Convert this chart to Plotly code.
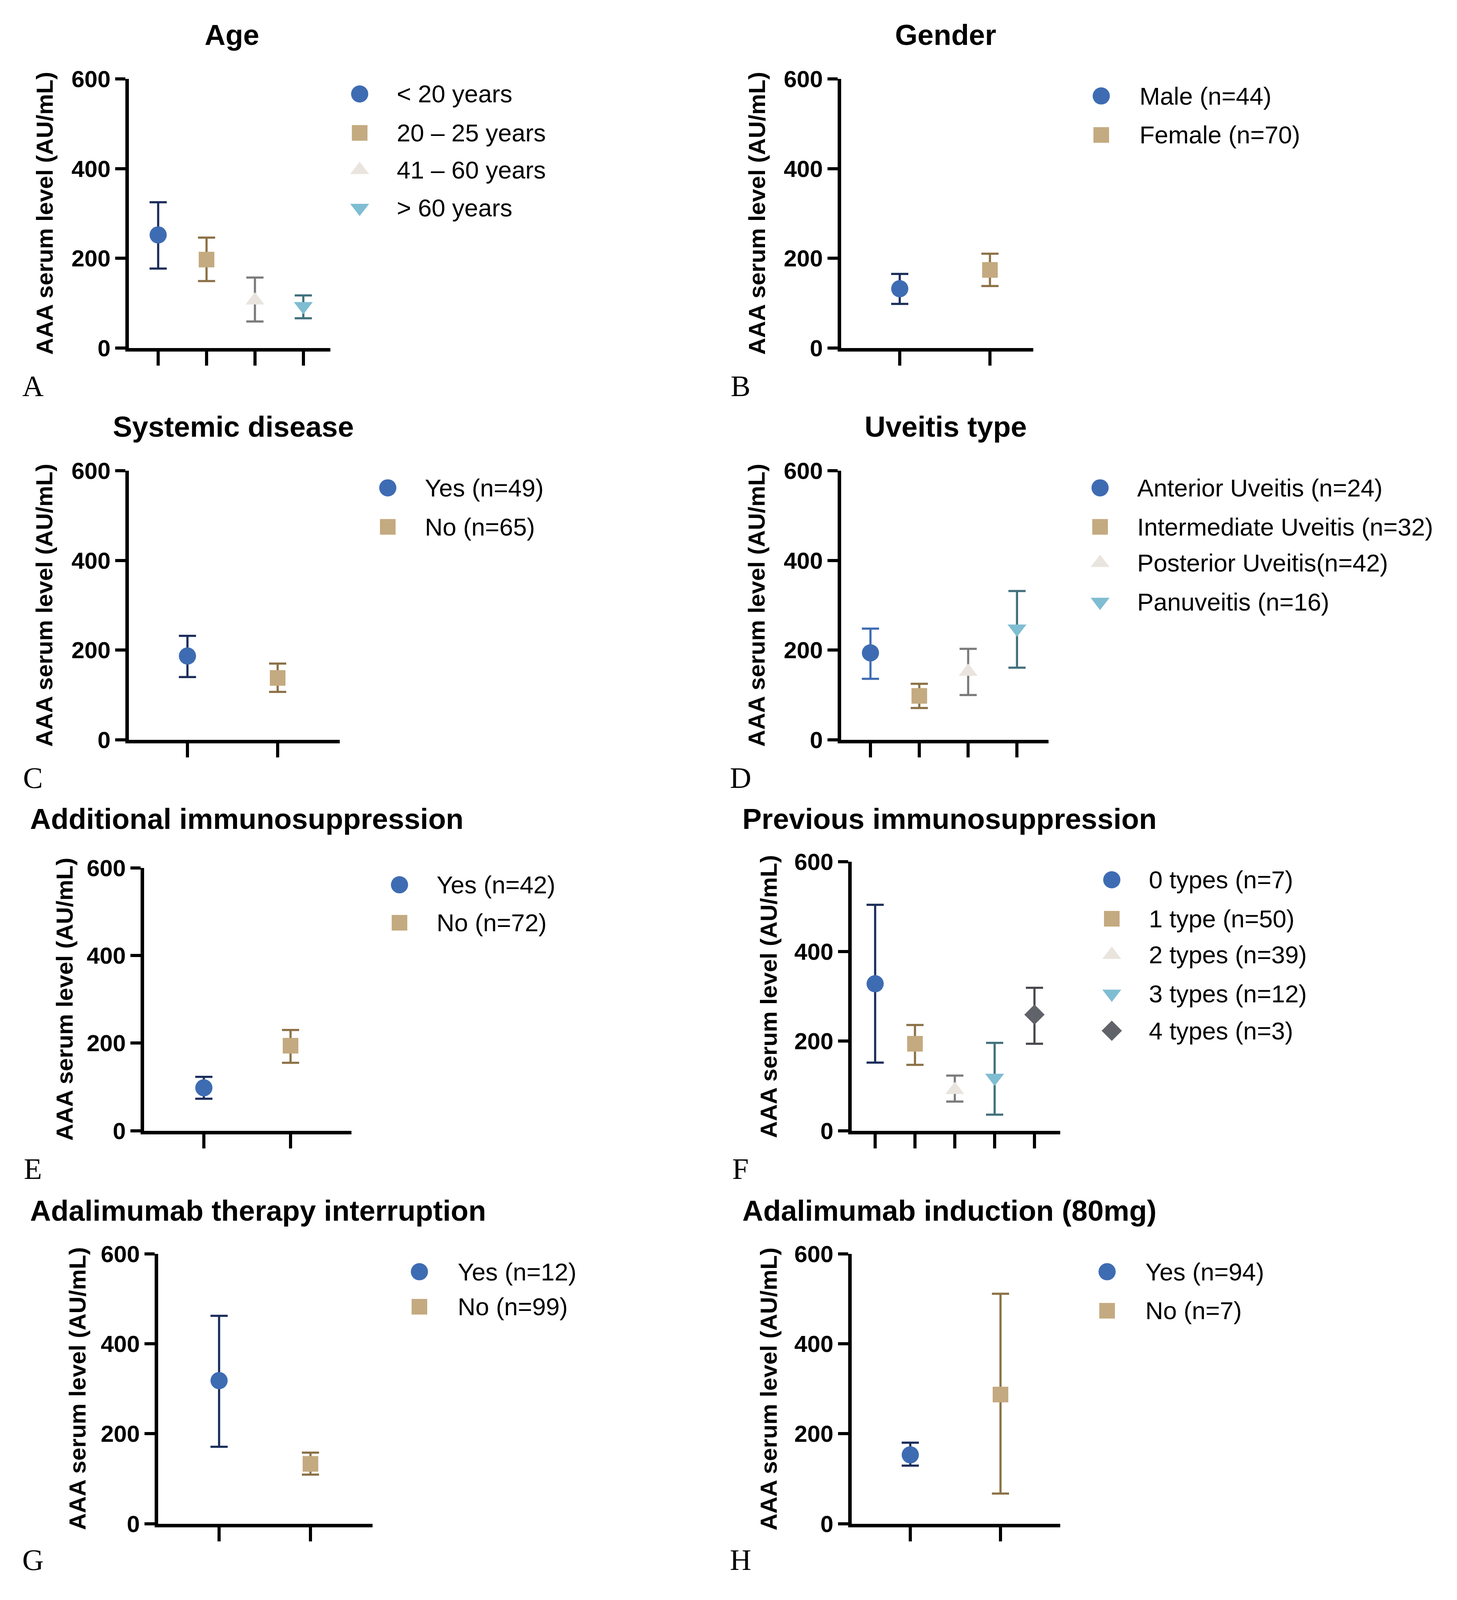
import plotly.graph_objects as go

# reference frame is 3731 x 4722; the page that gets photographed is about
# 3731 x 4096, so the figure is sized to fit it and positions are mapped over
REF_W, REF_H = 3731, 4722
VIEW_H = 4096
PAGE_MARGIN = 8
W, H = REF_W - 2 * PAGE_MARGIN, VIEW_H - 2 * PAGE_MARGIN
S = 3.0  # layout numbers below are given in 1/3 of the reference scale
VS = S * VIEW_H / REF_H  # vertical factor from layout units to page pixels

# ---- data (mean with lower / upper error limits) ----
age_labels = ["< 20 years", "20 – 25 years", "41 – 60 years", "> 60 years"]
age_mean = [252, 197, 106, 93]
age_low = [177, 149, 59, 66]
age_high = [325, 246, 157, 117]

gender_labels = ["Male (n=44)", "Female (n=70)"]
gender_mean = [132, 174]
gender_low = [98, 138]
gender_high = [165, 210]

systemic_labels = ["Yes (n=49)", "No (n=65)"]
systemic_mean = [187, 138]
systemic_low = [140, 107]
systemic_high = [232, 170]

uveitis_labels = ["Anterior Uveitis (n=24)", "Intermediate Uveitis (n=32)",
                  "Posterior Uveitis(n=42)", "Panuveitis (n=16)"]
uveitis_mean = [194, 98, 152, 248]
uveitis_low = [136, 71, 100, 161]
uveitis_high = [248, 125, 203, 332]

addimm_labels = ["Yes (n=42)", "No (n=72)"]
addimm_mean = [98, 194]
addimm_low = [73, 155]
addimm_high = [123, 230]

previmm_labels = ["0 types (n=7)", "1 type (n=50)", "2 types (n=39)",
                  "3 types (n=12)", "4 types (n=3)"]
previmm_mean = [328, 194, 91, 118, 259]
previmm_low = [152, 147, 65, 36, 194]
previmm_high = [504, 236, 123, 196, 319]

interrupt_labels = ["Yes (n=12)", "No (n=99)"]
interrupt_mean = [318, 133]
interrupt_low = [171, 109]
interrupt_high = [462, 158]

induction_labels = ["Yes (n=94)", "No (n=7)"]
induction_mean = [153, 287]
induction_low = [129, 67]
induction_high = [180, 511]

y_ticks = [0, 200, 400, 600]
y_title = "AAA serum level (AU/mL)"

# ---- styles ----
symbols = ["circle", "square", "triangle-up", "triangle-down", "diamond"]
marker_colors = ["#3e6cb3", "#c4aa80", "#e9e5de", "#7fbdd2", "#606369"]
err_colors = ["#1a2d5a", "#8b7145", "#7b7b7b", "#41707c", "#47484c"]
marker_sizes = [44, 40, 42, 42, 40]

panels = [
    dict(title="Age", tx=198, talign="center", ty=22, letter="A", lx=28, ly=373,
         x0=110, x1=282, t0=135, step=41.3, ytop=66, ybot=335, yt_x=38,
         leg_x=307, leg_tx=338, leg_y=[81, 120, 157, 195],
         labels=age_labels, mean=age_mean, low=age_low, high=age_high),
    dict(title="Gender", tx=807, talign="center", ty=22, letter="B", lx=632, ly=373,
         x0=718, x1=882, t0=768, step=77, ytop=66, ybot=335, yt_x=646,
         leg_x=940, leg_tx=972, leg_y=[83, 122],
         labels=gender_labels, mean=gender_mean, low=gender_low, high=gender_high),
    dict(title="Systemic disease", tx=199, talign="center", ty=414, letter="C", lx=28, ly=765,
         x0=110, x1=290, t0=160, step=77, ytop=458, ybot=727, yt_x=38,
         leg_x=331, leg_tx=362, leg_y=[475, 514],
         labels=systemic_labels, mean=systemic_mean, low=systemic_low, high=systemic_high),
    dict(title="Uveitis type", tx=807, talign="center", ty=414, letter="D", lx=632, ly=765,
         x0=718, x1=895, t0=743, step=41.7, ytop=458, ybot=727, yt_x=646,
         leg_x=939, leg_tx=970, leg_y=[475, 514, 550, 589],
         labels=uveitis_labels, mean=uveitis_mean, low=uveitis_low, high=uveitis_high),
    dict(title="Additional immunosuppression", tx=25, talign="left", ty=806, letter="E", lx=28, ly=1156,
         x0=123, x1=300, t0=174, step=74, ytop=855, ybot=1118, yt_x=55,
         leg_x=341, leg_tx=372, leg_y=[872, 910],
         labels=addimm_labels, mean=addimm_mean, low=addimm_low, high=addimm_high),
    dict(title="Previous immunosuppression", tx=633, talign="left", ty=806, letter="F", lx=632, ly=1156,
         x0=727, x1=905, t0=747, step=34, ytop=849, ybot=1118, yt_x=656,
         leg_x=949, leg_tx=980, leg_y=[867, 906, 942, 981, 1018],
         labels=previmm_labels, mean=previmm_mean, low=previmm_low, high=previmm_high),
    dict(title="Adalimumab therapy interruption", tx=25, talign="left", ty=1198, letter="G", lx=28, ly=1547,
         x0=135, x1=318, t0=187, step=78, ytop=1241, ybot=1511, yt_x=66,
         leg_x=358, leg_tx=390, leg_y=[1259, 1294],
         labels=interrupt_labels, mean=interrupt_mean, low=interrupt_low, high=interrupt_high),
    dict(title="Adalimumab induction (80mg)", tx=633, talign="left", ty=1198, letter="H", lx=632, ly=1547,
         x0=727, x1=905, t0=777, step=77, ytop=1241, ybot=1511, yt_x=656,
         leg_x=945, leg_tx=977, leg_y=[1259, 1298],
         labels=induction_labels, mean=induction_mean, low=induction_low, high=induction_high),
]


def px(v):
    return (v * S - PAGE_MARGIN) / W


def py(v):
    return 1 - (v * VS - PAGE_MARGIN) / H


fig = go.Figure()
annotations = []

for k, p in enumerate(panels):
    n = len(p["labels"])
    xa = "x" if k == 0 else f"x{k + 1}"
    ya = "y" if k == 0 else f"y{k + 1}"
    ecols = err_colors[:n]
    if p["letter"] == "D":
        ecols = [marker_colors[0]] + err_colors[1:n]

    for i in range(n):
        m = p["mean"][i]
        fig.add_trace(go.Scatter(
            x=[i + 1], y=[m], mode="markers", xaxis=xa, yaxis=ya,
            showlegend=False, name=p["labels"][i],
            marker=dict(symbol=symbols[i], size=marker_sizes[i],
                        color=marker_colors[i], line=dict(width=0)),
            error_y=dict(type="data", symmetric=False,
                         array=[p["high"][i] - m], arrayminus=[m - p["low"][i]],
                         color=ecols[i], thickness=5.5, width=22),
            cliponaxis=False,
        ))
        # legend entry, marker placed on an overlay axis in layout units
        fig.add_trace(go.Scatter(
            x=[p["leg_x"]], y=[p["leg_y"][i]], mode="markers",
            xaxis="x9", yaxis="y9", showlegend=False, hoverinfo="skip",
            marker=dict(symbol=symbols[i], size=marker_sizes[i],
                        color=marker_colors[i], line=dict(width=0)),
        ))
        annotations.append(dict(
            text=p["labels"][i], x=px(p["leg_tx"]), y=py(p["leg_y"][i]),
            xref="paper", yref="paper", xanchor="left", yanchor="middle",
            showarrow=False, font=dict(family="Liberation Sans", size=63, color="black"),
        ))

    lo = 1 - (p["t0"] - p["x0"]) / p["step"]
    hi = 1 + (p["x1"] - p["t0"]) / p["step"]
    fig.layout[f"xaxis{k + 1 if k else ''}"] = dict(
        domain=[px(p["x0"]), px(p["x1"])], range=[lo, hi], anchor=ya,
        showgrid=False, zeroline=False, showline=True, linecolor="black", linewidth=9,
        ticks="outside", ticklen=36, tickwidth=8, tickcolor="black",
        tickvals=list(range(1, n + 1)), showticklabels=False,
    )
    fig.layout[f"yaxis{k + 1 if k else ''}"] = dict(
        domain=[py(p["ybot"]), py(p["ytop"])], range=[0, 600], anchor=xa,
        showgrid=False, zeroline=False, showline=True, linecolor="black", linewidth=9,
        ticks="outside", ticklen=26, tickwidth=8, tickcolor="black",
        tickvals=y_ticks, tickfont=dict(family="Liberation Sans", size=60, color="black", weight="bold"),
    )

    annotations.append(dict(
        text=f"<b>{p['title']}</b>", x=px(p["tx"]), y=py(p["ty"]),
        xref="paper", yref="paper", xanchor=p["talign"], yanchor="middle",
        showarrow=False, font=dict(family="Liberation Sans", size=74, color="black"),
    ))
    annotations.append(dict(
        text=f"<b>{y_title}</b>", x=px(p["yt_x"]), y=py((p["ytop"] + p["ybot"]) / 2),
        xref="paper", yref="paper", xanchor="center", yanchor="middle", textangle=-90,
        showarrow=False, font=dict(family="Liberation Sans", size=60, color="black"),
    ))
    annotations.append(dict(
        text=p["letter"], x=px(p["lx"]), y=py(p["ly"]),
        xref="paper", yref="paper", xanchor="center", yanchor="middle",
        showarrow=False, font=dict(family="Liberation Serif", size=76, color="black"),
    ))

# overlay axes for the legend markers, covering the whole paper in layout units
fig.layout["xaxis9"] = dict(domain=[0, 1],
                            range=[PAGE_MARGIN / S, (W + PAGE_MARGIN) / S],
                            visible=False, anchor="y9")
fig.layout["yaxis9"] = dict(domain=[0, 1],
                            range=[(H + PAGE_MARGIN) / VS, PAGE_MARGIN / VS],
                            visible=False, anchor="x9")

fig.update_layout(
    width=W, height=H,
    margin=dict(l=0, r=0, t=0, b=0),
    paper_bgcolor="white", plot_bgcolor="rgba(0,0,0,0)",
    showlegend=False,
    annotations=annotations,
)

fig.write_html("out.html")
